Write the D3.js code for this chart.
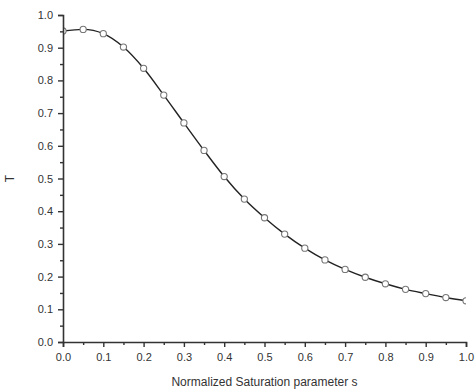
<!DOCTYPE html>
<html>
<head>
<meta charset="utf-8">
<script src="https://d3js.org/d3.v7.min.js"></script>
<style>
  body { margin: 0; background: #fff; }
  text { font-family: "Liberation Sans", Arial, sans-serif; fill: #333; }
</style>
</head>
<body>
<svg width="475" height="392"></svg>
<script>
const sValues = [0, 0.05, 0.1, 0.15, 0.2, 0.25, 0.3, 0.35, 0.4, 0.45, 0.5,
                 0.55, 0.6, 0.65, 0.7, 0.75, 0.8, 0.85, 0.9, 0.95, 1.0];
const tValues = [0.951, 0.956, 0.943, 0.902, 0.837, 0.755, 0.670, 0.586, 0.506, 0.437, 0.380,
                 0.330, 0.287, 0.251, 0.222, 0.198, 0.178, 0.161, 0.148, 0.136, 0.126];
const xTicks = [0, 0.1, 0.2, 0.3, 0.4, 0.5, 0.6, 0.7, 0.8, 0.9, 1.0];
const yTicks = [0, 0.1, 0.2, 0.3, 0.4, 0.5, 0.6, 0.7, 0.8, 0.9, 1.0];

const data = sValues.map((s, i) => ({ s: s, t: tValues[i] }));

const mLeft = 63, mRight = 466, mTop = 15, mBottom = 342;
const svg = d3.select('svg');

const x = d3.scaleLinear().domain([0, 1]).range([mLeft, mRight]);
const y = d3.scaleLinear().domain([0, 1]).range([mBottom, mTop]);

svg.append('defs').append('clipPath').attr('id', 'clip')
  .append('rect')
  .attr('x', mLeft).attr('y', 0)
  .attr('width', mRight - mLeft).attr('height', mBottom);

// curve
const plot = svg.append('g').attr('clip-path', 'url(#clip)');
plot.append('path')
  .datum(data)
  .attr('fill', 'none')
  .attr('stroke', '#222')
  .attr('stroke-width', 1.4)
  .attr('d', d3.line().x(d => x(d.s)).y(d => y(d.t)).curve(d3.curveMonotoneX));

plot.selectAll('circle')
  .data(data)
  .enter()
  .append('circle')
  .attr('cx', d => x(d.s))
  .attr('cy', d => y(d.t))
  .attr('r', 3.1)
  .attr('fill', '#fff')
  .attr('stroke', '#777')
  .attr('stroke-width', 1.1);

// minor ticks
const minor = d3.range(0.05, 1, 0.1);

svg.append('g')
  .attr('transform', `translate(0, ${mBottom})`)
  .call(d3.axisBottom(x).tickValues(xTicks).tickFormat(d3.format('.1f')).tickSize(5).tickPadding(6));
svg.append('g')
  .attr('transform', `translate(0, ${mBottom})`)
  .call(d3.axisBottom(x).tickValues(minor).tickFormat('').tickSize(3))
  .select('.domain').remove();

svg.append('g')
  .attr('transform', `translate(${mLeft}, 0)`)
  .call(d3.axisLeft(y).tickValues(yTicks).tickFormat(d3.format('.1f')).tickSize(5).tickPadding(5));
svg.append('g')
  .attr('transform', `translate(${mLeft}, 0)`)
  .call(d3.axisLeft(y).tickValues(minor).tickFormat('').tickSize(3))
  .select('.domain').remove();

svg.selectAll('.domain').attr('stroke', '#333').attr('stroke-width', 1.6);
svg.selectAll('.tick line').attr('stroke', '#333').attr('stroke-width', 1.4);
svg.selectAll('.tick text')
  .style('font-family', '"Liberation Sans", Arial, sans-serif')
  .style('font-size', '11px')
  .attr('fill', '#444');

svg.append('text')
  .attr('x', (mLeft + mRight) / 2)
  .attr('y', 386)
  .attr('text-anchor', 'middle')
  .style('font-size', '12px')
  .text('Normalized Saturation parameter s');

svg.append('text')
  .attr('transform', `translate(14, ${(mTop + mBottom) / 2}) rotate(-90)`)
  .attr('text-anchor', 'middle')
  .style('font-size', '12px')
  .text('T');
</script>
</body>
</html>
